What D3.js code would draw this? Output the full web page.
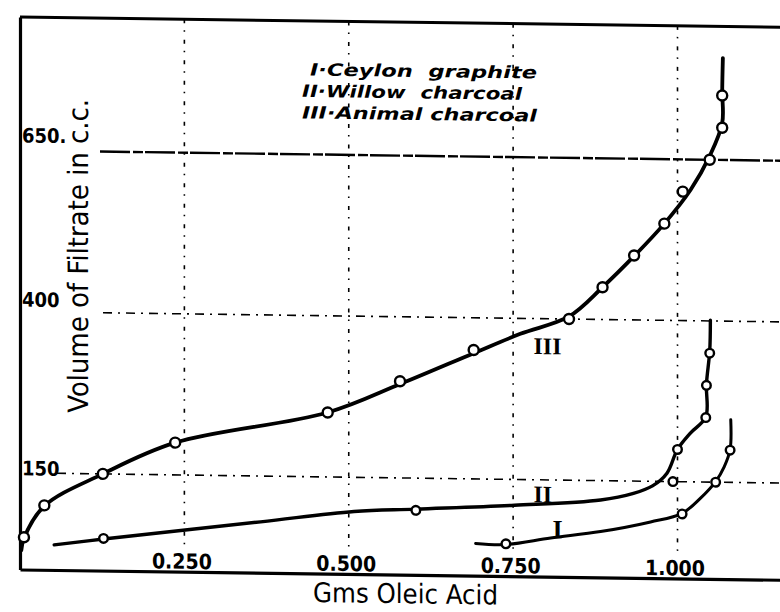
<!DOCTYPE html>
<html>
<head>
<meta charset="utf-8">
<script src="https://cdn.jsdelivr.net/npm/d3@7"></script>
<style>
body { margin: 0; background: white; }
</style>
</head>
<body>
<script>
// values
var acidTicks = [0.25, 0.5, 0.75, 1.0];
var acidTickLabels = ["0.250", "0.500", "0.750", "1.000"];
var volumeTicks = [150, 400, 650];
var volumeTickLabels = ["150", "400", "650."];

var legendLines = ["I·Ceylon  graphite", "II·Willow  charcoal", "III·Animal charcoal"];
var curveNames = ["I", "II", "III"];

// III - animal charcoal (observations, then the drawn curve)
var animalVolume = [50, 100, 150, 200, 250, 300, 350, 400, 450, 500, 550, 600, 650, 700, 750];
var animalAcid = [0.006, 0.037, 0.126, 0.236, 0.468, 0.578, 0.690, 0.835, 0.886, 0.934, 0.980, 1.008, 1.049, 1.068, 1.068];
var animalCurveVolume = [30, 48.5, 99, 150, 200, 250, 296, 345, 376, 404, 450, 500, 550, 603, 656, 707, 757, 808];
var animalCurveAcid = [0.002, 0.006, 0.037, 0.126, 0.236, 0.468, 0.579, 0.690, 0.761, 0.835, 0.886, 0.935, 0.980, 1.020, 1.049, 1.068, 1.068, 1.069];

// II - willow charcoal
var willowVolume = [50, 100, 150, 200, 250, 300, 350];
var willowAcid = [0.127, 0.602, 0.993, 1.000, 1.043, 1.044, 1.049];
var willowCurveVolume = [39, 49, 79, 97, 102, 110, 120, 131, 143, 163, 200, 226, 251, 302, 353, 401];
var willowCurveAcid = [0.052, 0.127, 0.366, 0.508, 0.602, 0.752, 0.883, 0.933, 0.962, 0.984, 1.000, 1.020, 1.043, 1.044, 1.049, 1.050];

// I - Ceylon graphite
var graphiteVolume = [50, 100, 150, 200];
var graphiteAcid = [0.739, 1.007, 1.058, 1.080];
var graphiteCurveVolume = [50, 49, 60, 71, 87, 101, 125, 151, 174, 201, 247];
var graphiteCurveAcid = [0.693, 0.739, 0.807, 0.883, 0.959, 1.007, 1.035, 1.058, 1.071, 1.080, 1.081];

var width = 780;
var height = 612;

var svg = d3.select("body").append("svg")
		.attr("width", width)
		.attr("height", height)
		.style("background", "white")

var xScale = d3.scaleLinear()
	.domain([0, 1.2])
	.range([20, 809])

var yScale = d3.scaleLinear()
	.domain([0, 857])
	.range([569.5, 17])

// the scan is slightly skewed, tilt the whole sheet the same way
var skew = 0.0135;
var chart = svg.append("g")
		.attr("transform", "matrix(1," + skew + ",0,1,0," + (-skew * 20) + ")")

var grid = chart.append("g")
		.attr("class", "grid")
		.attr("stroke", "black")
		.attr("fill", "none")

grid.selectAll(".vgrid")
	.data(acidTicks)
	.enter().append("line")
		.attr("class", "vgrid")
		.attr("x1", d => xScale(d))
		.attr("x2", d => xScale(d))
		.attr("y1", yScale(857))
		.attr("y2", yScale(35))
		.attr("stroke-width", 1.6)
		.attr("stroke-dasharray", "4,7,1.5,8")

var gridStart = {150: 57, 400: 103, 650: 100};

grid.selectAll(".hgrid")
	.data(volumeTicks)
	.enter().append("line")
		.attr("class", "hgrid")
		.attr("x1", d => gridStart[d])
		.attr("x2", xScale(1.2))
		.attr("y1", d => yScale(d))
		.attr("y2", d => yScale(d))
		.attr("stroke-width", d => d == 650 ? 2.4 : 1.6)
		.attr("stroke-dasharray", d => d == 650 ? "30,3,10,2" : "9,6,2,6")

// frame: top edge
chart.append("line")
		.attr("x1", xScale(0))
		.attr("x2", xScale(1.2))
		.attr("y1", yScale(857))
		.attr("y2", yScale(857))
		.attr("stroke", "black")
		.attr("stroke-width", 3)

var xAxis = chart.append("g")
		.attr("class", "xAxis")
		.attr("transform", "translate(0," + yScale(0) + ")")
		.call(
			d3.axisTop(xScale)
				.tickValues(acidTicks)
				.tickFormat((d, i) => acidTickLabels[i])
				.tickSize(0)
				.tickSizeOuter(0)
				.tickPadding(3)
		);

xAxis.select(".domain")
		.attr("stroke-width", 3.2)

xAxis.selectAll("text")
		.attr("dx", -3)
		.attr("textLength", 60)
		.attr("lengthAdjust", "spacingAndGlyphs")
		.style("font-family", "'DejaVu Sans Condensed', 'DejaVu Sans', sans-serif")
		.style("font-weight", "bold")
		.style("font-size", "21px")
		.style("fill", "black")

var labelShift = {150: 2, 400: -5.6, 650: -8.5};

var yAxis = chart.append("g")
		.attr("class", "yAxis")
		.attr("transform", "translate(" + xScale(0) + ",0)")
		.call(
			d3.axisRight(yScale)
				.tickValues(volumeTicks)
				.tickFormat((d, i) => volumeTickLabels[i])
				.tickSize(0)
				.tickSizeOuter(0)
				.tickPadding(2)
		);

yAxis.select(".domain")
		.attr("stroke-width", 3.2)

yAxis.selectAll("text")
		.attr("dy", d => labelShift[d])
		.style("font-family", "'DejaVu Sans Condensed', 'DejaVu Sans', sans-serif")
		.style("font-weight", "bold")
		.style("font-size", "20px")
		.style("fill", "black")

// curves
var curveLine = d3.line()
	.x(d => xScale(d[0]))
	.y(d => yScale(d[1]))
	.curve(d3.curveCatmullRom.alpha(0.5))

var series = [
	{curve: d3.zip(graphiteCurveAcid, graphiteCurveVolume), points: d3.zip(graphiteAcid, graphiteVolume), w: 3, r: 4.3},
	{curve: d3.zip(willowCurveAcid, willowCurveVolume), points: d3.zip(willowAcid, willowVolume), w: 3.4, r: 4.3},
	{curve: d3.zip(animalCurveAcid, animalCurveVolume), points: d3.zip(animalAcid, animalVolume), w: 3.8, r: 5}
];

var curves = chart.append("g")
		.attr("class", "curves")

series.forEach(s => {
	curves.append("path")
			.datum(s.curve)
			.attr("d", curveLine)
			.attr("fill", "none")
			.attr("stroke", "black")
			.attr("stroke-width", s.w)
			.attr("stroke-linecap", "round")
			.attr("stroke-linejoin", "round")

	curves.selectAll(null)
		.data(s.points)
		.enter().append("circle")
			.attr("cx", d => xScale(d[0]))
			.attr("cy", d => yScale(d[1]))
			.attr("r", s.r)
			.attr("fill", "white")
			.attr("stroke", "black")
			.attr("stroke-width", 2.4)
})

// roman numerals beside the curves
var nameAnchors = [[0.81, 60], [0.781, 115], [0.781, 345]];

chart.selectAll(".curveName")
	.data(curveNames)
	.enter().append("text")
		.attr("class", "curveName")
		.attr("x", (d, i) => xScale(nameAnchors[i][0]))
		.attr("y", (d, i) => yScale(nameAnchors[i][1]))
		.style("font-family", "'Liberation Serif', serif")
		.style("font-weight", "bold")
		.style("font-size", (d, i) => i == 0 ? "26px" : "24px")
		.text(d => d)

// key
var legendX = [310, 302, 302];
var legendY = [71.6, 93, 114.6];
var legendW = [227, 220, 235];

chart.selectAll(".legend")
	.data(legendLines)
	.enter().append("text")
		.attr("class", "legend")
		.attr("x", (d, i) => legendX[i])
		.attr("y", (d, i) => legendY[i])
		.attr("textLength", (d, i) => legendW[i])
		.attr("lengthAdjust", "spacingAndGlyphs")
		.style("font-family", "'DejaVu Sans Condensed', 'DejaVu Sans', sans-serif")
		.style("font-style", "italic")
		.style("font-weight", "bold")
		.style("font-size", "17px")
		.style("white-space", "pre")
		.text(d => d)

// axis titles
chart.append("text")
		.attr("x", 405.5)
		.attr("y", 598)
		.attr("text-anchor", "middle")
		.attr("textLength", 185)
		.attr("lengthAdjust", "spacingAndGlyphs")
		.style("font-family", "'DejaVu Sans Condensed', 'DejaVu Sans', sans-serif")
		.style("font-size", "27px")
		.text("Gms Oleic Acid")

chart.append("text")
		.attr("transform", "translate(88,255) rotate(-90)")
		.attr("text-anchor", "middle")
		.attr("textLength", 314)
		.attr("lengthAdjust", "spacingAndGlyphs")
		.style("font-family", "'DejaVu Sans Condensed', 'DejaVu Sans', sans-serif")
		.style("font-size", "28px")
		.text("Volume of Filtrate in c.c.")
</script>
</body>
</html>
